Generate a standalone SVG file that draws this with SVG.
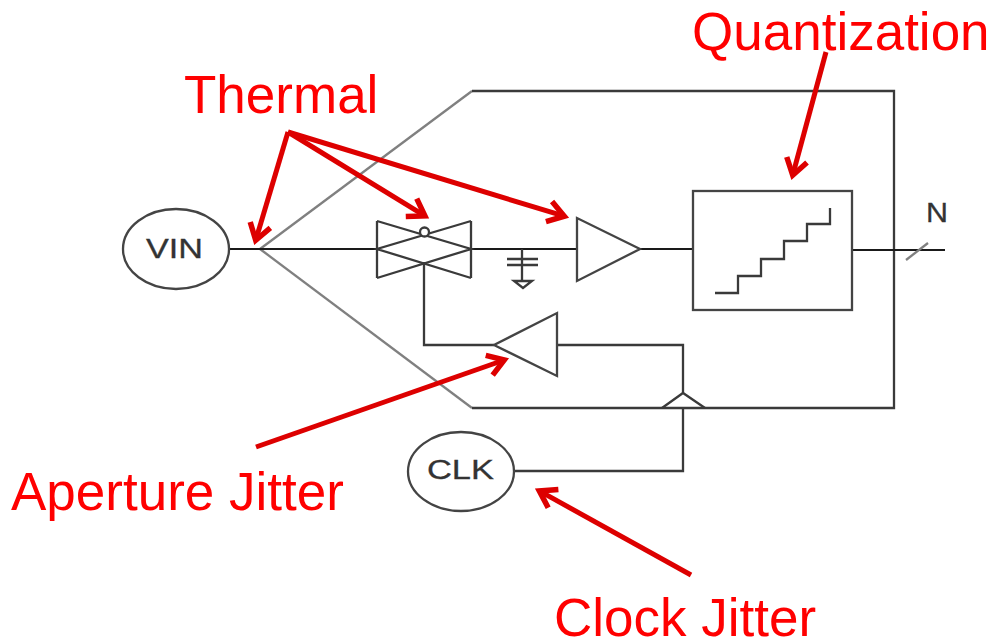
<svg xmlns="http://www.w3.org/2000/svg" width="991" height="639" viewBox="0 0 991 639">
<defs>
<style>
.k{fill:none;stroke:#3a3a3a;stroke-width:2.300}
.g{fill:none;stroke:#808080;stroke-width:2.300}
.d{fill:none;stroke:#1a1a1a;stroke-width:1.800}
.n{fill:#fff;stroke:#444;stroke-width:2.300}
.a{fill:none;stroke:#dd0000;stroke-width:5;marker-end:url(#ah)}
.r{font-family:"Liberation Sans",Arial,sans-serif;font-size:53px;fill:#ff0000}
.l{font-family:"Liberation Sans",Arial,sans-serif;font-size:27px;fill:#333;stroke:#333;stroke-width:.3}
</style>
<marker id="ah" markerUnits="userSpaceOnUse" markerWidth="40" markerHeight="34" refX="26" refY="15" orient="auto" viewBox="0 0 40 34">
<path d="M10 4.500L26 15L10 25.500" fill="none" stroke="#dd0000" stroke-width="5.500"/>
</marker>
</defs>
<rect width="991" height="639" fill="#fff"/>
<g id="connectors">
<path class="g" d="M260 249L472 91"/>
<path class="g" d="M260 249L472 408"/>
<path class="k" d="M472 91H894V408H472"/>
<path class="d" d="M229 249H377M471 249H577"/>
<path class="d" d="M640 249H693"/>
<path class="d" d="M852 250H945"/>
<path class="g" d="M906 260L928 243"/>
<path class="k" d="M424 262V345H494"/>
<path class="k" d="M557 345H683V393"/>
<path class="k" d="M683 408V471H514"/>
<path class="k" d="M662 408L683 393L705 408"/>
</g>
<g id="node-vin"><ellipse class="n" cx="176" cy="249" rx="53" ry="40"/><text class="l" x="146" y="258" textLength="57" lengthAdjust="spacingAndGlyphs">VIN</text></g>
<g id="node-switch">
<path class="k" d="M377 221V278M471 221V278M377 221L471 249L377 278M471 221L377 249L471 278"/>
<circle class="k" cx="424.500" cy="232" r="4.500" style="fill:#fff"/>
</g>
<g id="node-cap">
<path class="k" d="M522 249V281M507 259H538M507 265H538"/>
<path class="k" d="M514 281H532L523 288Z"/>
</g>
<g id="node-amp"><path class="n" d="M577 218V281L640 249Z"/></g>
<g id="node-quantizer">
<rect class="n" x="693" y="191" width="159" height="119"/>
<path class="k" d="M715 293H738V276H761V259H784V241H807V224H830V208"/>
</g>
<g id="node-aperture-amp"><path class="n" d="M557 313V376L494 345Z"/></g>
<g id="node-clk"><ellipse class="n" cx="461" cy="471.500" rx="53" ry="39.500"/><text class="l" x="427" y="479" textLength="67" lengthAdjust="spacingAndGlyphs">CLK</text></g>
<text class="l" x="926" y="222" textLength="22" lengthAdjust="spacingAndGlyphs">N</text>
<g id="annotations">
<path class="a" d="M288 132L255.700 240.300"/>
<path class="a" d="M288 132L424.900 215.900"/>
<path class="a" d="M288 132L564.300 216.200"/>
<path class="a" d="M826 52L792.700 175.200"/>
<path class="a" d="M256 447L504.300 360"/>
<path class="a" d="M691 575L539.300 490.900"/>
<text class="r" x="184" y="113">Thermal</text>
<text class="r" x="692" y="50">Quantization</text>
<text class="r" x="11" y="510">Aperture Jitter</text>
<text class="r" x="554" y="636">Clock Jitter</text>
</g>
</svg>
